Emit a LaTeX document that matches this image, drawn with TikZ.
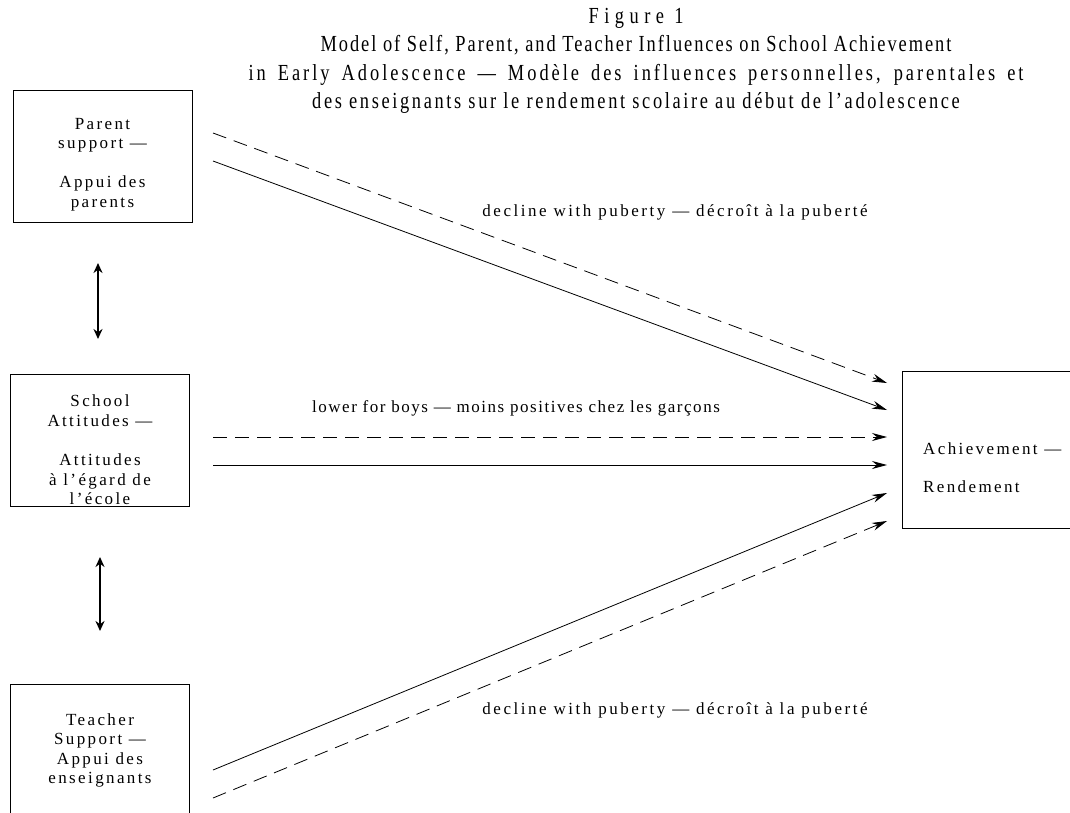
\documentclass[tikz,border=0pt]{standalone}
\usepackage{fontspec}
\setmainfont{Liberation Serif}
\newfontfamily\boxfont[LetterSpace=14]{Liberation Serif}
\newfontfamily\titlefont[FakeStretch=0.8]{Liberation Serif}
\usetikzlibrary{arrows.meta,positioning}

\begin{document}
\begin{tikzpicture}[x=1pt,y=-1pt,
  box/.style={draw,line width=0.9pt,minimum width=179pt,minimum height=132pt,inner sep=0pt},
  boxtext/.style={align=center,inner sep=0pt,anchor=north,font=\boxfont\fontsize{17}{19.5}\selectfont},
  linktext/.style={inner sep=0pt,font=\boxfont\fontsize{17}{19.5}\selectfont},
  titletext/.style={align=center,inner sep=0pt,anchor=north,font=\titlefont\fontsize{23}{28.5}\selectfont},
  link/.style={line width=0.8pt,-{Stealth[length=15pt,width=8pt]}},
  dlink/.style={link,dash pattern=on 14pt off 8pt},
  mutual/.style={line width=2.5pt,{Stealth[length=10pt,width=9pt]}-{Stealth[length=10pt,width=9pt]}}
]
\useasboundingbox (0,0) rectangle (1070,813);
\clip (0,0) rectangle (1070,813);

\node[titletext] (title) at (636,8) {{\addfontfeatures{LetterSpace=24}Figure 1}\\
  {\addfontfeatures{LetterSpace=8.5}Model of Self, Parent, and Teacher Influences on School Achievement}\\
  \makebox[775pt][s]{\addfontfeatures{LetterSpace=13}in Early Adolescence — Modèle des influences personnelles, parentales et}\\
  {\addfontfeatures{LetterSpace=11.4}des enseignants sur le rendement scolaire au début de l’adolescence}};

\node[box] (parent) at (102.5,156) {};
\node[boxtext] (parenttext) at (102.5,118) {Parent\\support —\\[19.5pt]Appui des\\parents};
\node[box] (school) at (100,440) {};
\node[boxtext] (schooltext) at (100,395) {School\\Attitudes —\\[19.5pt]Attitudes\\à l’égard de\\l’école};
\node[box] (teacher) at (100,750) {};
\node[boxtext] (teachertext) at (100,713) {Teacher\\Support —\\Appui des\\enseignants};
\node[box,minimum height=157pt] (ach) at (991.5,449.5) {};
\node[boxtext,anchor=north west,align=left] (achtext) at (923,442) {Achievement —\\[19.5pt]Rendement};

\coordinate (pdstart) at (213,133);  \coordinate (pdend) at (887,383);
\coordinate (psstart) at (213,161);  \coordinate (psend) at (887,410);
\coordinate (sdstart) at (213,437);  \coordinate (sdend) at (887,437);
\coordinate (ssstart) at (213,465);  \coordinate (ssend) at (887,465);
\coordinate (tsstart) at (213,770);  \coordinate (tsend) at (887,493);
\coordinate (tdstart) at (213,798);  \coordinate (tdend) at (887,521);
\coordinate (upa) at (98,263);  \coordinate (upb) at (98,339);
\coordinate (lowa) at (100,557); \coordinate (lowb) at (100,631);

\draw[dlink] (pdstart) -- (pdend);
\draw[link] (psstart) -- (psend);
\draw[dlink] (sdstart) -- (sdend);
\draw[link] (ssstart) -- (ssend);
\draw[link] (tsstart) -- (tsend);
\draw[dlink] (tdstart) -- (tdend);
\draw[mutual] (upa) -- (upb);
\draw[mutual] (lowa) -- (lowb);

\node[linktext] (pubtop) at (675,212) {\addfontfeatures{LetterSpace=15}decline with puberty — décroît à la puberté};
\node[linktext] (boys) at (516,408) {\addfontfeatures{LetterSpace=9}lower for boys — moins positives chez les garçons};
\node[linktext] (pubbottom) at (675,710) {\addfontfeatures{LetterSpace=15}decline with puberty — décroît à la puberté};
\end{tikzpicture}
\end{document}
